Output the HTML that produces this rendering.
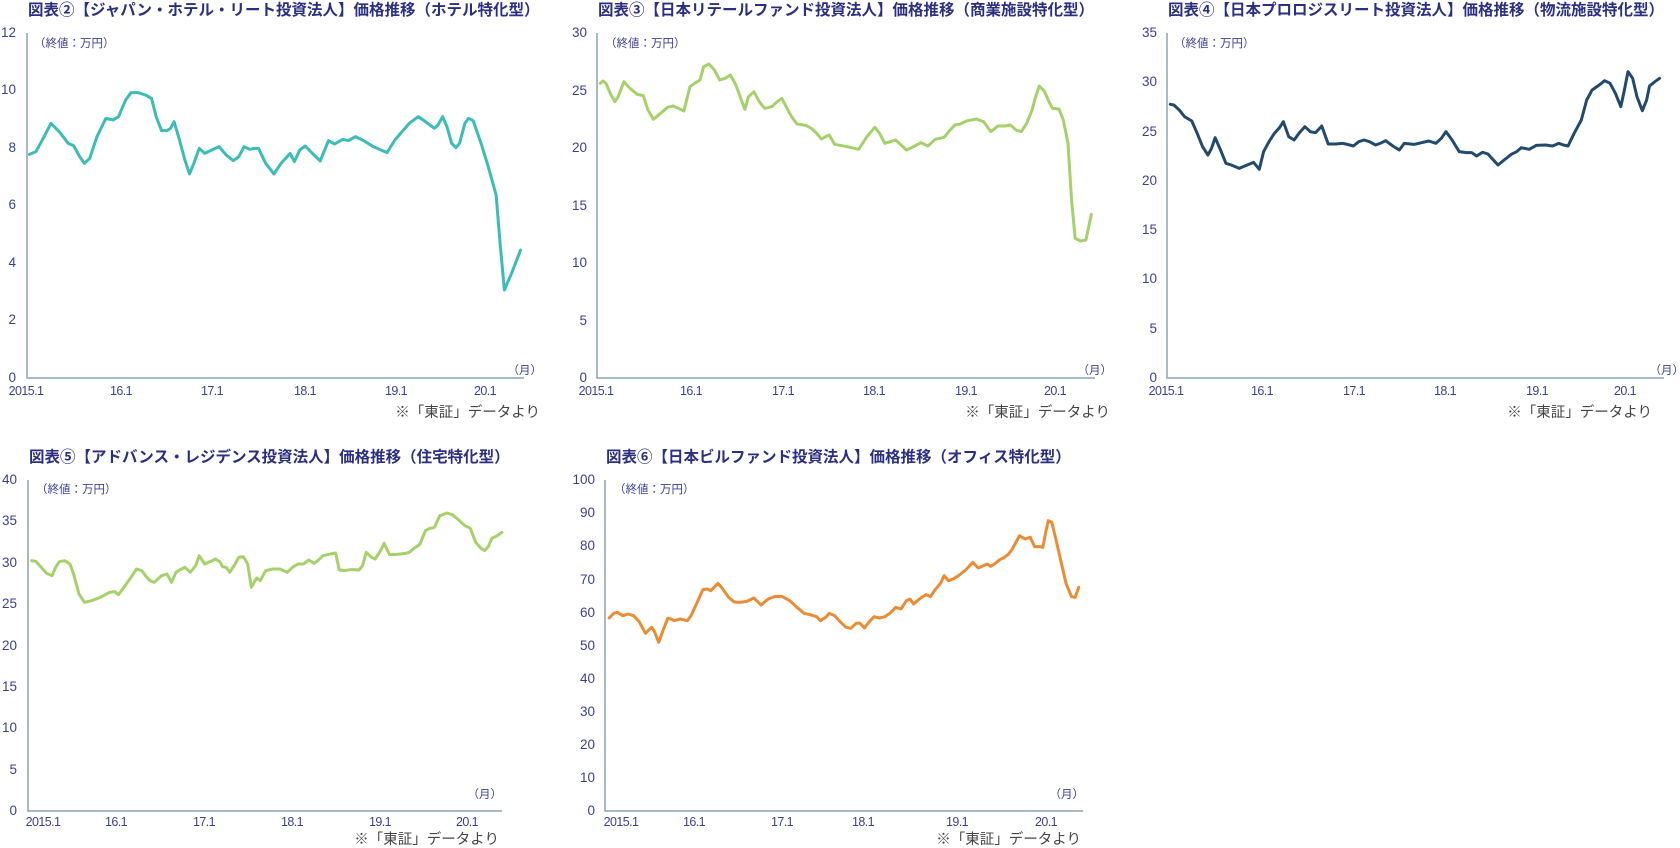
<!DOCTYPE html>
<html><head><meta charset="utf-8"><style>
html,body{margin:0;padding:0;background:#fff;}
svg{display:block;}
.t{font-family:"Liberation Sans","Noto Sans CJK JP",sans-serif;font-weight:bold;font-size:15.5px;fill:#2b2f80;}
.y{font-family:"Liberation Sans",sans-serif;font-size:13.5px;fill:#3b3f92;text-anchor:end;}
.x{font-family:"Liberation Sans",sans-serif;font-size:12.5px;fill:#3b3f92;text-anchor:middle;letter-spacing:-0.6px;}
.u{font-family:"Liberation Sans","Noto Sans CJK JP",sans-serif;font-size:11.5px;fill:#3b3f92;}
.s{font-family:"Liberation Sans","Noto Sans CJK JP",sans-serif;font-size:14.5px;fill:#444;text-anchor:end;}
.ax{stroke:#8ea3ad;stroke-width:1.5;fill:none;}
.ln{fill:none;stroke-width:3;stroke-linejoin:round;stroke-linecap:round;vector-effect:non-scaling-stroke;}
</style></head><body>
<svg width="1680" height="848" viewBox="0 0 1680 848" xmlns="http://www.w3.org/2000/svg">
<!-- Chart 1 -->
<text class="t" x="28" y="15">図表②【ジャパン・ホテル・リート投資法人】価格推移（ホテル特化型）</text>
<path class="ax" d="M27,33 V378 H524"/>
<g class="y"><text x="16" y="382">0</text><text x="16" y="324">2</text><text x="16" y="267">4</text><text x="16" y="209">6</text><text x="16" y="152">8</text><text x="16" y="94">10</text><text x="16" y="37">12</text></g>
<g class="x"><text x="26" y="395">2015.1</text><text x="121" y="395">16.1</text><text x="212" y="395">17.1</text><text x="305" y="395">18.1</text><text x="396" y="395">19.1</text><text x="485" y="395">20.1</text></g>
<text class="u" x="34" y="47">（終値：万円）</text>
<text class="u" x="542" y="374" text-anchor="end">（月）</text>
<text class="s" x="540" y="417">※「東証」データより</text>
<g transform="scale(0.359,0.33333)"><polyline class="ln" stroke="#3cbcb6" points="82,463 100,455 118,420 142,370 165,395 190,430 205,437 222,470 235,490 250,475 270,410 295,355 315,360 330,350 350,300 365,278 385,278 405,285 422,295 435,350 450,392 465,392 475,385 485,365 500,420 515,480 528,522 540,490 555,445 570,460 590,450 610,440 630,465 650,482 665,470 680,440 695,448 710,445 720,445 740,490 763,522 783,490 808,460 820,485 835,450 850,438 870,460 892,483 915,422 932,432 955,418 970,422 990,410 1010,420 1040,440 1078,458 1100,420 1120,395 1140,370 1165,350 1185,365 1210,385 1220,375 1233,350 1245,380 1258,430 1270,443 1280,430 1295,370 1305,355 1318,362 1340,430 1360,500 1382,585 1393,730 1405,870 1425,820 1450,750"/></g>

<!-- Chart 2 -->
<text class="t" x="598" y="15">図表③【日本リテールファンド投資法人】価格推移（商業施設特化型）</text>
<path class="ax" d="M597,33 V378 H1095"/>
<g class="y"><text x="587" y="382">0</text><text x="587" y="325">5</text><text x="587" y="267">10</text><text x="587" y="210">15</text><text x="587" y="152">20</text><text x="587" y="95">25</text><text x="587" y="37">30</text></g>
<g class="x"><text x="596" y="395">2015.1</text><text x="691" y="395">16.1</text><text x="783" y="395">17.1</text><text x="874" y="395">18.1</text><text x="966" y="395">19.1</text><text x="1055" y="395">20.1</text></g>
<text class="u" x="605" y="47">（終値：万円）</text>
<text class="u" x="1112" y="374" text-anchor="end">（月）</text>
<text class="s" x="1110" y="417">※「東証」データより</text>
<g transform="translate(560,0) scale(0.359,0.33333)"><polyline class="ln" stroke="#a5d16b" points="112,250 120,243 128,250 140,280 153,305 162,290 178,245 195,265 215,283 232,287 245,330 260,358 280,340 300,322 315,318 330,325 345,333 362,260 375,250 390,240 400,200 415,192 430,210 445,240 460,235 475,225 490,255 505,300 515,328 525,290 540,275 555,305 570,325 590,320 605,305 618,295 630,320 645,350 660,372 685,376 700,385 715,400 728,417 740,410 750,405 765,433 800,440 832,448 855,410 877,382 890,400 905,430 920,425 935,420 950,435 965,450 985,440 1005,428 1025,438 1045,418 1070,412 1085,392 1100,375 1115,372 1135,362 1160,357 1180,365 1200,395 1220,378 1240,378 1255,375 1270,390 1285,395 1300,370 1315,330 1325,290 1335,258 1350,275 1362,305 1372,325 1390,327 1402,360 1415,430 1425,600 1435,715 1450,723 1465,720 1480,643"/></g>

<!-- Chart 3 -->
<text class="t" x="1168" y="15">図表④【日本プロロジスリート投資法人】価格推移（物流施設特化型）</text>
<path class="ax" d="M1167,33 V378 H1664"/>
<g class="y"><text x="1157" y="382">0</text><text x="1157" y="333">5</text><text x="1157" y="283">10</text><text x="1157" y="234">15</text><text x="1157" y="185">20</text><text x="1157" y="136">25</text><text x="1157" y="86">30</text><text x="1157" y="37">35</text></g>
<g class="x"><text x="1166" y="395">2015.1</text><text x="1262" y="395">16.1</text><text x="1354" y="395">17.1</text><text x="1445" y="395">18.1</text><text x="1537" y="395">19.1</text><text x="1625" y="395">20.1</text></g>
<text class="u" x="1174" y="47">（終値：万円）</text>
<text class="u" x="1684" y="374" text-anchor="end">（月）</text>
<text class="s" x="1652" y="417">※「東証」データより</text>
<g transform="translate(1120,0) scale(0.359,0.33333)"><polyline class="ln" stroke="#22496e" points="140,313 150,315 165,330 180,350 200,363 215,400 230,440 245,465 255,445 265,413 280,450 295,490 310,495 332,505 350,497 372,487 388,508 400,455 415,425 430,400 445,382 455,365 470,410 485,420 500,398 515,380 530,395 545,398 562,378 580,432 600,432 620,430 640,435 650,438 665,425 680,420 695,425 712,435 725,430 740,422 760,438 778,450 792,430 820,433 840,428 860,423 880,430 895,415 908,395 925,420 945,455 965,458 980,458 993,468 1010,457 1025,462 1040,480 1053,495 1070,480 1090,463 1105,455 1118,443 1140,448 1160,436 1185,435 1205,438 1222,430 1235,435 1248,438 1265,400 1285,360 1300,300 1315,270 1335,255 1350,242 1365,250 1380,280 1395,320 1405,270 1415,215 1428,235 1440,290 1455,332 1467,300 1475,258 1490,245 1503,235"/></g>

<!-- Chart 4 -->
<text class="t" x="29" y="462">図表⑤【アドバンス・レジデンス投資法人】価格推移（住宅特化型）</text>
<path class="ax" d="M28,480 V811 H502"/>
<g class="y"><text x="17" y="815">0</text><text x="17" y="774">5</text><text x="17" y="732">10</text><text x="17" y="691">15</text><text x="17" y="650">20</text><text x="17" y="608">25</text><text x="17" y="567">30</text><text x="17" y="525">35</text><text x="17" y="484">40</text></g>
<g class="x"><text x="43" y="826">2015.1</text><text x="116" y="826">16.1</text><text x="204" y="826">17.1</text><text x="292" y="826">18.1</text><text x="380" y="826">19.1</text><text x="467" y="826">20.1</text></g>
<text class="u" x="36" y="493">（終値：万円）</text>
<text class="u" x="502" y="798" text-anchor="end">（月）</text>
<text class="s" x="499" y="844">※「東証」データより</text>
<g transform="translate(0,424) scale(0.359,0.33333)"><polyline class="ln" stroke="#a5d16b" points="88,410 100,412 115,430 130,448 145,455 155,430 165,413 180,410 195,420 205,450 220,510 235,535 255,530 280,520 305,505 320,503 330,512 345,490 365,460 380,435 395,440 405,455 418,470 430,475 440,465 450,455 465,450 478,475 490,445 500,438 515,430 525,440 530,445 545,425 555,395 570,420 585,413 600,405 612,413 620,428 630,430 640,445 655,420 665,400 678,398 690,420 700,490 715,462 725,470 740,440 760,435 780,435 800,445 815,430 830,420 845,420 860,408 875,418 885,410 900,395 920,390 935,387 945,438 960,440 975,437 985,437 1000,438 1010,425 1020,385 1035,400 1045,405 1060,380 1070,358 1085,392 1105,391 1130,388 1140,385 1155,372 1170,360 1185,320 1195,314 1210,310 1225,275 1245,267 1260,272 1280,290 1295,305 1310,313 1325,355 1340,373 1350,380 1360,368 1370,343 1385,335 1398,325"/></g>

<!-- Chart 5 -->
<text class="t" x="606" y="462">図表⑥【日本ビルファンド投資法人】価格推移（オフィス特化型）</text>
<path class="ax" d="M605,480 V811 H1083"/>
<g class="y"><text x="595" y="815">0</text><text x="595" y="782">10</text><text x="595" y="749">20</text><text x="595" y="716">30</text><text x="595" y="683">40</text><text x="595" y="650">50</text><text x="595" y="617">60</text><text x="595" y="584">70</text><text x="595" y="550">80</text><text x="595" y="517">90</text><text x="595" y="484">100</text></g>
<g class="x"><text x="621" y="826">2015.1</text><text x="694" y="826">16.1</text><text x="782" y="826">17.1</text><text x="863" y="826">18.1</text><text x="957" y="826">19.1</text><text x="1046" y="826">20.1</text></g>
<text class="u" x="614" y="493">（終値：万円）</text>
<text class="u" x="1084" y="798" text-anchor="end">（月）</text>
<text class="s" x="1081" y="844">※「東証」データより</text>
<g transform="translate(560,424) scale(0.359,0.33333)"><polyline class="ln" stroke="#e98c34" points="137,582 150,568 160,565 175,575 190,570 205,575 220,592 238,628 255,610 262,620 275,655 285,625 300,583 310,585 318,590 335,585 355,590 365,575 380,540 398,497 410,495 420,500 440,478 450,490 470,520 485,534 500,535 520,532 540,522 560,543 580,525 600,517 620,518 640,530 660,550 680,568 700,573 715,578 725,590 740,580 750,568 765,575 780,593 797,610 810,613 825,598 835,597 848,612 860,595 875,578 890,582 905,578 920,567 935,550 950,555 965,530 975,525 985,540 998,528 1010,518 1020,512 1032,518 1045,497 1060,478 1070,455 1082,470 1095,465 1110,455 1130,438 1150,415 1165,432 1180,425 1190,420 1200,427 1210,420 1225,407 1235,402 1248,392 1260,375 1280,335 1295,345 1310,340 1322,368 1337,368 1345,370 1352,330 1360,290 1370,295 1380,340 1395,410 1410,480 1425,518 1435,520 1445,490"/></g>
</svg>
</body></html>
